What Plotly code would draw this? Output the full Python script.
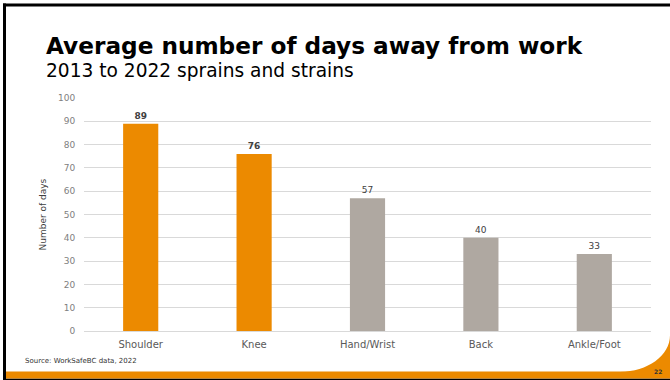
import plotly.graph_objects as go

categories = ["Shoulder", "Knee", "Hand/Wrist", "Back", "Ankle/Foot"]
days = [89, 76, 57, 40, 33]
highlight = [True, True, False, False, False]
y_ticks = [0, 10, 20, 30, 40, 50, 60, 70, 80, 90, 100]

ORANGE = "#EC8A00"
GREY = "#AFA8A1"
FONT = "DejaVu Sans"

W, H = 670, 380
L, R, T, B = 84, 651, 98.3, 330.7  # plot area in pixels


def px(x):
    return (x - L) / (R - L)


def py(y):
    return (B - y) / (B - T)


colors = [ORANGE if h else GREY for h in highlight]
labels = [f"<b>{v}</b>" if h else str(v) for v, h in zip(days, highlight)]

fig = go.Figure(
    go.Bar(
        x=categories,
        y=days,
        marker=dict(color=colors, line=dict(width=0)),
        text=labels,
        textposition="outside",
        textfont=dict(family=FONT, size=9, color="#404040"),
        cliponaxis=False,
        width=0.31,
    )
)

shapes = []
# black slide border (left, top, bottom)
shapes.append(dict(type="rect", xref="paper", yref="paper", x0=px(3), x1=px(6), y0=py(380), y1=py(4),
                   fillcolor="#000", line=dict(width=0), layer="above"))
shapes.append(dict(type="rect", xref="paper", yref="paper", x0=px(3), x1=px(670), y0=py(7), y1=py(4),
                   fillcolor="#000", line=dict(width=0), layer="above"))
shapes.append(dict(type="rect", xref="paper", yref="paper", x0=px(3), x1=px(670), y0=py(380), y1=py(378),
                   fillcolor="#000", line=dict(width=0), layer="above"))
# orange bottom bar
shapes.append(dict(type="rect", xref="paper", yref="paper", x0=px(6), x1=px(670), y0=py(378), y1=py(371),
                   fillcolor=ORANGE, line=dict(width=0), layer="above"))
# orange corner (white area has a rounded bottom-right corner)
cx, cy, rx, ry = 620, 335, 50, 36.5
k = 0.5523
path = (f"M {px(670)},{py(cy - 2)} L {px(cx + rx)},{py(cy)} "
        f"C {px(cx + rx)},{py(cy + ry * k)} {px(cx + rx * k)},{py(cy + ry)} {px(cx)},{py(cy + ry)} "
        f"L {px(cx)},{py(372)} L {px(670)},{py(372)} Z")
shapes.append(dict(type="path", xref="paper", yref="paper", path=path,
                   fillcolor=ORANGE, line=dict(width=0), layer="above"))

annotations = [
    dict(text="<b>Average number of days away from work</b>", x=px(44), y=py(45.5), xref="paper", yref="paper",
         xanchor="left", yanchor="middle", showarrow=False, font=dict(family=FONT, size=23.2, color="#000")),
    dict(text="2013 to 2022 sprains and strains", x=px(44), y=py(71), xref="paper", yref="paper",
         xanchor="left", yanchor="middle", showarrow=False, font=dict(family=FONT, size=18.6, color="#000")),
    dict(text="Number of days", x=px(42), y=py(214.5), xref="paper", yref="paper", textangle=-90,
         xanchor="center", yanchor="middle", showarrow=False, font=dict(family=FONT, size=9, color="#404040")),
    dict(text="Source: WorkSafeBC data, 2022", x=px(23), y=py(361), xref="paper", yref="paper",
         xanchor="left", yanchor="middle", showarrow=False, font=dict(family=FONT, size=7, color="#333333")),
    dict(text="<b>22</b>", x=px(658), y=py(371), xref="paper", yref="paper",
         xanchor="center", yanchor="middle", showarrow=False, font=dict(family=FONT, size=6, color="#333333")),
]

fig.update_layout(
    width=W, height=H,
    margin=dict(l=L, r=W - R, t=T, b=H - B, pad=0),
    paper_bgcolor="white", plot_bgcolor="white",
    showlegend=False,
    shapes=shapes,
    annotations=annotations,
    xaxis=dict(showgrid=False, showline=False, zeroline=False, ticks="outside", ticklen=4,
               tickcolor="rgba(0,0,0,0)", tickfont=dict(family=FONT, size=10, color="#595959")),
    yaxis=dict(range=[0, 100], tickvals=y_ticks, showgrid=True, gridcolor="#D9D9D9", gridwidth=1,
               zeroline=True, zerolinecolor="#D9D9D9", zerolinewidth=1, showline=False,
               ticks="outside", ticklen=6, tickcolor="rgba(0,0,0,0)",
               tickfont=dict(family=FONT, size=9, color="#808080")),
)

fig.write_html("out.html")
